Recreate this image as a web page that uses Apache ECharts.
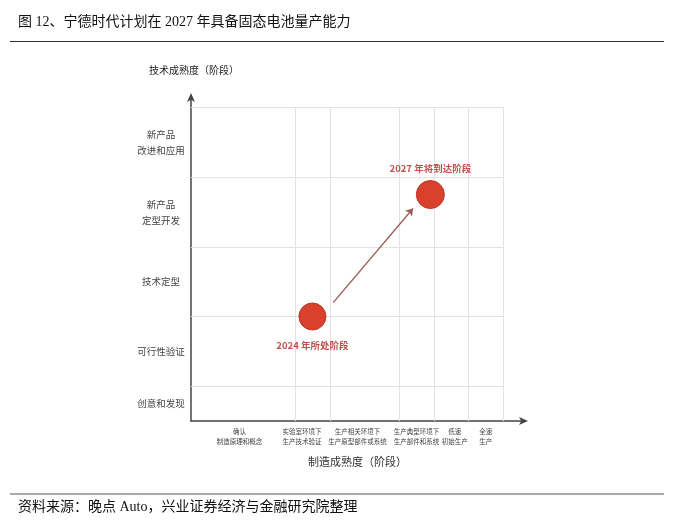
<!DOCTYPE html>
<html>
<head>
<meta charset="utf-8">
<script src="https://cdn.jsdelivr.net/npm/echarts@6/dist/echarts.min.js"></script>
<style>
html,body{margin:0;padding:0;background:#fff;}
#chart{width:674px;height:521px;}
</style>
</head>
<body>
<div id="chart"></div>
<script>
// ---- data ----
const titleText = '图 12、宁德时代计划在 2027 年具备固态电池量产能力';
const sourceText = '资料来源：晚点 Auto，兴业证券经济与金融研究院整理';
const yAxisName = '技术成熟度（阶段）';
const xAxisName = '制造成熟度（阶段）';
const yCategories = ['创意和发现', '可行性验证', '技术定型', '新产品\n定型开发', '新产品\n改进和应用'];
const yLabelPos = [0.25, 1, 2, 3, 4];
const xCategories = ['确认\n制造原理和概念', '实验室环境下\n生产技术验证', '生产相关环境下\n生产原型部件或系统', '生产典型环境下\n生产部件和系统', '低速\n初始生产', '全速\n生产'];
const xLabelPos = [1.4, 3.2, 4.8, 6.5, 7.6, 8.5];
const xBoundaries = [3, 4, 6, 7, 8, 9];
const yBoundaries = [0.5, 1.5, 2.5, 3.5, 4.5];
const pointNames = ['2024 年所处阶段', '2027 年将到达阶段'];
const pointX = [3.5, 6.9];
const pointY = [1.5, 3.25];
const arrowFrom = [4.1, 1.7];
const arrowTo = [6.4, 3.05];

// ---- chart ----
const chart = echarts.init(document.getElementById('chart'));
const gridTopY = yBoundaries[yBoundaries.length - 1];
const gridRightX = xBoundaries[xBoundaries.length - 1];
const gridLines = [];
xBoundaries.forEach(b => gridLines.push([{coord: [b, 0]}, {coord: [b, gridTopY]}]));
yBoundaries.forEach(b => gridLines.push([{coord: [0, b]}, {coord: [gridRightX, b]}]));

const labelFont = '"Noto Sans CJK SC", "Noto Sans", sans-serif';
const serifFont = '"Liberation Serif", "Noto Sans CJK SC", serif';

const option = {
  animation: false,
  backgroundColor: '#fff',
  grid: {left: 191, right: 150, top: 97, bottom: 100, containLabel: false},
  xAxis: {
    type: 'value', min: 0, max: 9.6,
    name: xAxisName, nameLocation: 'middle', nameGap: 35,
    nameTextStyle: {fontSize: 11, color: '#333', fontFamily: labelFont},
    axisLine: {show: true, lineStyle: {color: '#444', width: 1.5}, symbol: ['none', 'arrow'], symbolSize: [6, 9], symbolOffset: [0, 4]},
    axisTick: {show: false},
    splitLine: {show: false},
    axisLabel: {
      customValues: xLabelPos,
      formatter: v => { const i = xLabelPos.findIndex(p => Math.abs(p - v) < 1e-6); return i >= 0 ? xCategories[i] : ''; },
      fontSize: 6.5, color: '#444', lineHeight: 10, margin: 6, fontFamily: labelFont
    }
  },
  yAxis: {
    type: 'value', min: 0, max: 4.65,
    name: yAxisName, nameLocation: 'end', nameGap: 22,
    nameTextStyle: {fontSize: 10, color: '#222', fontFamily: labelFont, align: 'center', padding: [0, 0, 0, 6]},
    axisLine: {show: true, lineStyle: {color: '#444', width: 1.5}, symbol: ['none', 'arrow'], symbolSize: [6, 9], symbolOffset: [0, 4]},
    axisTick: {show: false},
    splitLine: {show: false},
    axisLabel: {
      customValues: yLabelPos,
      formatter: v => { const i = yLabelPos.findIndex(p => Math.abs(p - v) < 1e-6); return i >= 0 ? yCategories[i] : ''; },
      fontSize: 9.5, color: '#444', lineHeight: 16, margin: 30, align: 'center', fontFamily: labelFont
    }
  },
  series: [
    {
      type: 'line', data: [], silent: true, z: 1,
      markLine: {
        silent: true, symbol: ['none', 'none'], label: {show: false},
        lineStyle: {color: '#e2e2e2', width: 1, type: 'solid'},
        data: gridLines
      }
    },
    {
      type: 'line', data: [], silent: true, z: 3,
      markLine: {
        silent: true, symbol: ['none', 'arrow'], symbolSize: 7, label: {show: false},
        lineStyle: {color: '#9b5a55', width: 1.3, type: 'solid'},
        data: [[{coord: arrowFrom}, {coord: arrowTo}]]
      }
    },
    {
      type: 'scatter', z: 5,
      data: pointX.map((x, i) => ({
        value: [x, pointY[i]], name: pointNames[i],
        symbolSize: i === 0 ? 27 : 28,
        label: {position: i === 0 ? 'bottom' : 'top', distance: i === 0 ? 10 : 7}
      })),
      itemStyle: {color: '#d9412c', borderColor: '#b8352a', borderWidth: 1, opacity: 1},
      label: {show: true, formatter: p => p.name, color: '#c0504d', fontSize: 9.5, fontWeight: 'bold', fontFamily: labelFont}
    }
  ],
  graphic: [
    {type: 'text', left: 18, top: 15, style: {text: titleText, fontSize: 14, fill: '#111', fontFamily: serifFont}},
    {type: 'line', shape: {x1: 10, y1: 41.5, x2: 664, y2: 41.5}, style: {stroke: '#333', lineWidth: 1}},
    {type: 'line', shape: {x1: 10, y1: 494, x2: 664, y2: 494}, style: {stroke: '#555', lineWidth: 1}},
    {type: 'text', left: 18, top: 500, style: {text: sourceText, fontSize: 14, fill: '#111', fontFamily: serifFont}}
  ]
};
chart.setOption(option);
</script>
</body>
</html>
